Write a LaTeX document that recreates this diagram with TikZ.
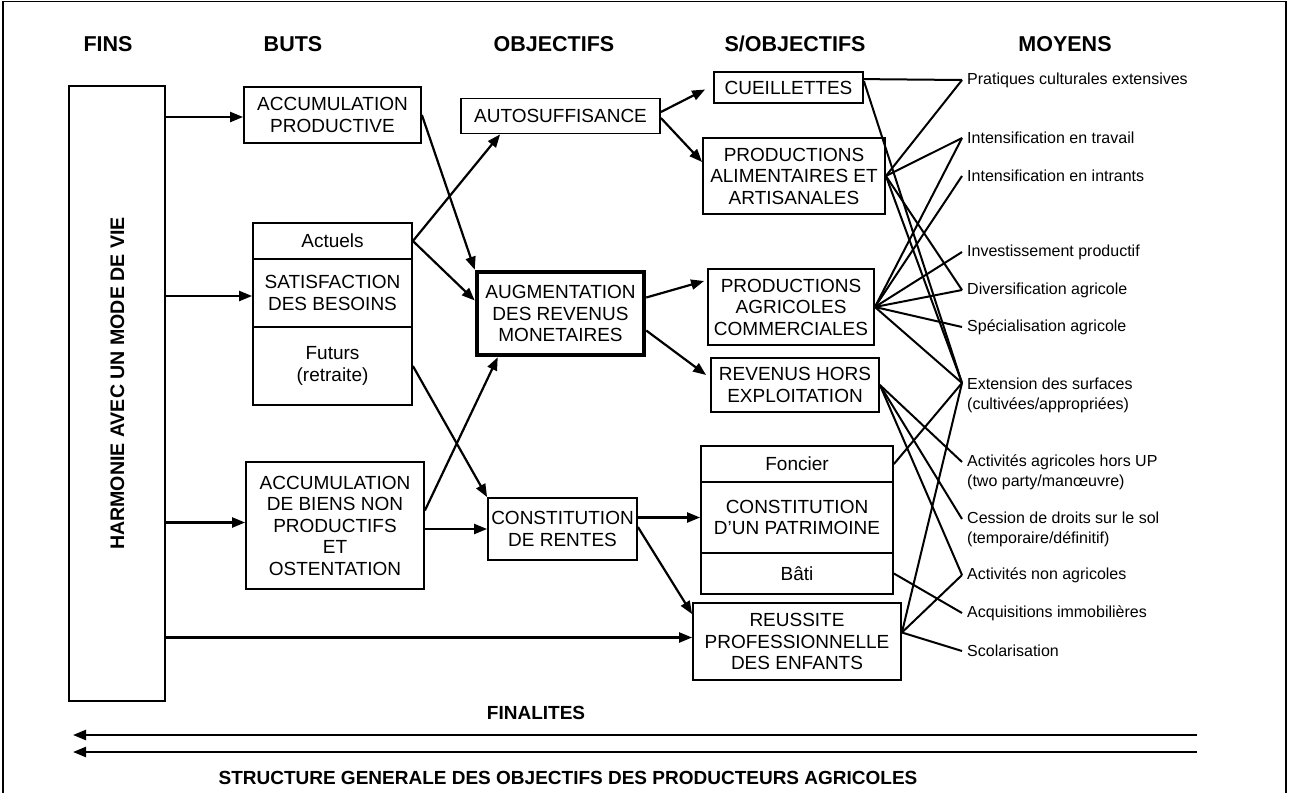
\documentclass[tikz,border=0pt]{standalone}
\usepackage{fontspec}
\setmainfont{Liberation Sans}
\usetikzlibrary{arrows.meta,calc,positioning}

\tikzset{
  box/.style={draw, line width=1.8pt, align=center, inner sep=0pt, font=\fontsize{19}{21.5}\selectfont},
  arr/.style={line width=2.2pt, -{Triangle[length=13pt,width=10pt]}},
  lien/.style={line width=2pt},
  moy/.style={anchor=west, align=left, inner sep=0pt, font=\fontsize{16}{20}\selectfont},
  titre/.style={font=\fontsize{21.5}{24}\selectfont\bfseries},
}

\begin{document}
\begin{tikzpicture}[x=1pt,y=-1pt]
			%%%%% START %%%%%
			\useasboundingbox (0,0) rectangle (1289,793);
			\draw[line width=1.3pt] (3,793) -- (3,1.5) -- (1286,1.5) -- (1286,793);
			
			\node[titre] (hfins) at (108,44) {FINS};
			\node[titre] (hbuts) at (293,44) {BUTS};
			\node[titre] (hobj) at (554,44) {OBJECTIFS};
			\node[titre] (hsobj) at (795,44) {S/OBJECTIFS};
			\node[titre] (hmoy) at (1065,44) {MOYENS};
			
			% fins
			\node[box, minimum width=96pt, minimum height=615pt] (harm) at (117,393.5) {};
			\node[font=\fontsize{19.6}{21}\selectfont\bfseries, rotate=90] (harmtxt) at (117.5,383.5) {HARMONIE AVEC UN MODE DE VIE};
			
			% buts
			\node[box, minimum width=177pt, minimum height=56pt] (ap) at (332.5,115) {ACCUMULATION\\PRODUCTIVE};
			\node[box, minimum width=159pt, minimum height=36pt] (act) at (332.5,241) {Actuels};
			\node[box, minimum width=159pt, minimum height=68pt] (sat) at (332.5,293) {SATISFACTION\\DES BESOINS};
			\node[box, minimum width=159pt, minimum height=78pt] (fut) at (332.5,366) {Futurs\\(retraite)};
			\node[box, minimum width=178pt, minimum height=127pt] (abnp) at (335,525.5) {ACCUMULATION\\DE BIENS NON\\PRODUCTIFS\\ET\\OSTENTATION};
			
			% objectifs
			\node[box, minimum width=199pt, minimum height=35pt] (auto) at (560.5,116) {AUTOSUFFISANCE};
			\node[box, line width=4.5pt, minimum width=167pt, minimum height=83pt] (aug) at (560.5,313.5) {AUGMENTATION\\DES REVENUS\\MONETAIRES};
			\node[box, minimum width=149pt, minimum height=62pt] (cdr) at (562.5,529) {CONSTITUTION\\DE RENTES};
			
			% sous-objectifs
			\node[box, minimum width=149pt, minimum height=31pt] (cue) at (788.5,87.5) {CUEILLETTES};
			\node[box, minimum width=182pt, minimum height=76pt] (paa) at (794,176) {PRODUCTIONS\\ALIMENTAIRES ET\\ARTISANALES};
			\node[box, minimum width=166pt, minimum height=76pt] (pac) at (791,307) {PRODUCTIONS\\AGRICOLES\\COMMERCIALES};
			\node[box, minimum width=168pt, minimum height=54pt] (rhe) at (795,385) {REVENUS HORS\\EXPLOITATION};
			\node[box, minimum width=192pt, minimum height=36pt] (fon) at (797,464) {Foncier};
			\node[box, minimum width=192pt, minimum height=71pt] (pat) at (797,517.5) {CONSTITUTION\\D'UN PATRIMOINE};
			\node[box, minimum width=192pt, minimum height=41pt] (bat) at (797,573.5) {Bâti};
			\node[box, minimum width=208pt, minimum height=77pt] (rpe) at (797,641.5) {REUSSITE\\PROFESSIONNELLE\\DES ENFANTS};
			
			% moyens
			\coordinate (e1) at (962,80);
			\coordinate (e2) at (962,138);
			\coordinate (e3) at (962,176);
			\coordinate (e4) at (962,252);
			\coordinate (e5) at (962,290);
			\coordinate (e6) at (962,327);
			\coordinate (e7) at (962,383);
			\coordinate (e8) at (962,462);
			\coordinate (e9) at (962,519);
			\coordinate (e10) at (962,575);
			\coordinate (e11) at (962,613);
			\coordinate (e12) at (962,651);
			\node[moy] (m1) at (967,80) {Pratiques culturales extensives};
			\node[moy] (m2) at (967,138) {Intensification en travail};
			\node[moy] (m3) at (967,176) {Intensification en intrants};
			\node[moy] (m4) at (967,252) {Investissement productif};
			\node[moy] (m5) at (967,290) {Diversification agricole};
			\node[moy] (m6) at (967,327) {Spécialisation agricole};
			\node[moy] (m7) at (967,395) {Extension des surfaces\\(cultivées/appropriées)};
			\node[moy] (m8) at (967,472) {Activités agricoles hors UP\\(two party/manœuvre)};
			\node[moy] (m9) at (967,529) {Cession de droits sur le sol\\(temporaire/définitif)};
			\node[moy] (m10) at (967,575) {Activités non agricoles};
			\node[moy] (m11) at (967,613) {Acquisitions immobilières};
			\node[moy] (m12) at (967,651) {Scolarisation};
			
			% fleches
			\draw[arr] ($(harm.east |- ap.west)+(0,2)$) -- ($(ap.west)+(0,2)$);
			\draw[arr] ($(harm.east |- sat.west)+(0,3)$) -- ($(sat.west)+(0,3)$);
			\draw[arr] ($(harm.east |- abnp.west)+(0,-3)$) -- ($(abnp.west)+(0,-3)$);
			\draw[arr] ($(harm.east |- rpe.west)+(0,-4)$) -- ($(rpe.west)+(0,-4)$);
			
			\draw[arr] (ap.east) -- (aug.north west);
			\draw[arr] (act.east) -- ($(auto.south west)+(40,0)$);
			\draw[arr] (act.east) -- ($(aug.west)+(0,-13)$);
			\draw[arr] (fut.east) -- (cdr.north west);
			\draw[arr] ($(abnp.east)+(0,-15)$) -- ($(aug.south west)+(23,0)$);
			\draw[arr] (cdr.west -| abnp.east) -- (cdr.west);
			
			\draw[arr] ($(auto.east)+(0,-4)$) -- ($(cue.west)+(-8,2)$);
			\draw[arr] ($(auto.east)+(0,2)$) -- ($(paa.west)+(0,-14)$);
			\draw[arr] ($(aug.east)+(0,-16)$) -- ($(pac.west)+(-3,-26)$);
			\draw[arr] ($(aug.east)+(0,17)$) -- ($(rhe.west)+(-4,-10)$);
			\draw[arr] (cdr.east |- pat.west) -- (pat.west);
			\draw[arr] ($(cdr.east)+(0,-2)$) -- ($(rpe.north west)+(0,12)$);
			
			% liens vers les moyens
			\draw[lien] ($(cue.north east)+(0,8)$) -- (e1);
			\draw[lien] ($(cue.north east)+(0,10)$) -- (e7);
			\foreach \m in {e1,e2,e5,e7}
				\draw[lien] (paa.east) -- (\m);
			\foreach \m in {e2,e3,e4,e5,e6,e7}
				\draw[lien] (pac.east) -- (\m);
			\foreach \m in {e8,e9,e10}
				\draw[lien] (rhe.east) -- (\m);
			\draw[lien] (fon.east) -- (e7);
			\draw[lien] (bat.east) -- (e11);
			\foreach \m in {e7,e10,e12}
				\draw[lien] ($(rpe.east)+(0,-9)$) -- (\m);
			
			% finalites
			\node[titre, font=\fontsize{19}{22}\selectfont\bfseries] (fin) at (536,713) {FINALITES};
			\coordinate (fa1) at (1197,735);
			\coordinate (fb1) at (73,735);
			\coordinate (fa2) at (1197,752);
			\coordinate (fb2) at (73,752);
			\draw[arr] (fa1) -- (fb1);
			\draw[arr] (fa2) -- (fb2);
			\node[titre, font=\fontsize{19}{22}\selectfont\bfseries] (struct) at (568,778) {STRUCTURE GENERALE DES OBJECTIFS DES PRODUCTEURS AGRICOLES};
			%%%%% END %%%%%
\end{tikzpicture}
\end{document}
